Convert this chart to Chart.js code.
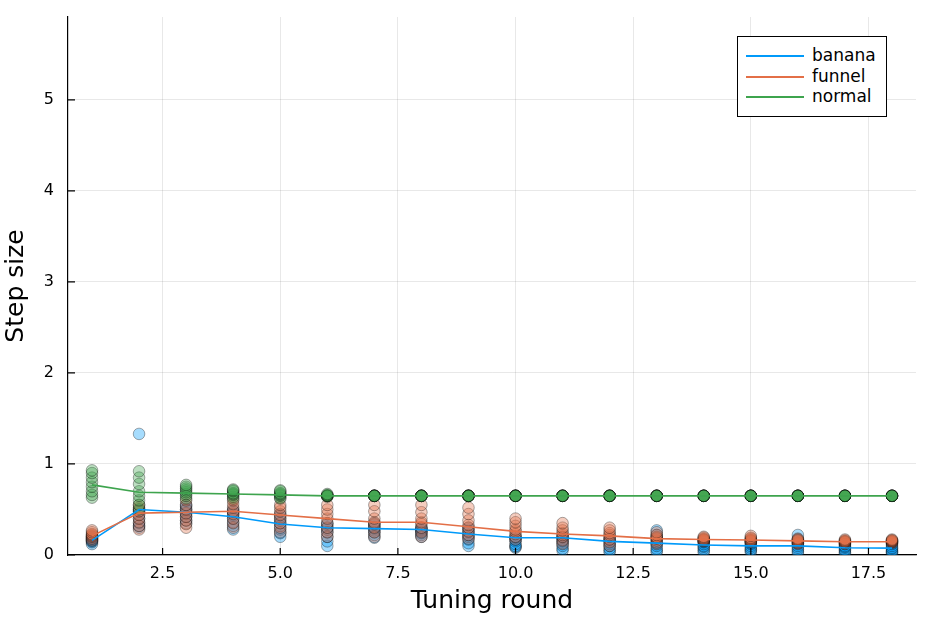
<!DOCTYPE html>
<html>
<head>
<meta charset="utf-8">
<script src="https://cdn.jsdelivr.net/npm/chart.js@4.4.1/dist/chart.umd.min.js"></script>
<style>
  body { margin: 0; background: #fff; }
  #wrap { position: relative; width: 934px; height: 623px; }
  #legend {
    position: absolute; left: 737px; top: 36px; width: 148px; height: 79px;
    border: 1.5px solid #000; background: #fff;
    font-family: "DejaVu Sans", sans-serif; font-size: 17px; color: #000;
  }
  #legend .row { position: absolute; left: 0; width: 100%; height: 20px; line-height: 20px; }
  #legend .swatch { position: absolute; left: 8px; top: 9px; width: 58px; height: 2px; }
  #legend .label { position: absolute; left: 74px; top: -1px; white-space: nowrap; }
</style>
</head>
<body>
<div id="wrap">
  <canvas id="chart" width="934" height="623"></canvas>
  <div id="legend"></div>
</div>
<script>
const rounds = [1, 2, 3, 4, 5, 6, 7, 8, 9, 10, 11, 12, 13, 14, 15, 16, 17, 18];
const xTicks = [2.5, 5.0, 7.5, 10.0, 12.5, 15.0, 17.5];
const yTicks = [0, 1, 2, 3, 4, 5];

// mean step size per tuning round
const bananaMean = [0.16, 0.50, 0.47, 0.42, 0.34, 0.30, 0.29, 0.28, 0.23, 0.19, 0.19, 0.15, 0.13, 0.11, 0.10, 0.10, 0.08, 0.075];
const funnelMean = [0.21, 0.46, 0.47, 0.48, 0.44, 0.40, 0.36, 0.36, 0.31, 0.26, 0.23, 0.21, 0.18, 0.17, 0.165, 0.155, 0.145, 0.145];
const normalMean = [0.77, 0.69, 0.68, 0.67, 0.66, 0.65, 0.65, 0.65, 0.65, 0.65, 0.65, 0.65, 0.65, 0.65, 0.65, 0.65, 0.65, 0.65];

// per-chain step sizes, one list per round
const bananaChains = [
  [0.12, 0.14, 0.15, 0.16, 0.17, 0.18, 0.19, 0.20],
  [1.33, 0.30, 0.35, 0.40, 0.45, 0.50, 0.48, 0.32],
  [0.35, 0.38, 0.42, 0.45, 0.48, 0.50, 0.53, 0.55],
  [0.28, 0.32, 0.36, 0.40, 0.43, 0.46, 0.48, 0.50],
  [0.20, 0.24, 0.28, 0.32, 0.35, 0.38, 0.42, 0.45],
  [0.10, 0.15, 0.20, 0.25, 0.28, 0.30, 0.33, 0.35],
  [0.19, 0.22, 0.25, 0.27, 0.29, 0.31, 0.33, 0.35],
  [0.20, 0.22, 0.24, 0.26, 0.27, 0.28, 0.29, 0.30],
  [0.10, 0.13, 0.17, 0.20, 0.22, 0.25, 0.28, 0.30],
  [0.08, 0.09, 0.10, 0.12, 0.15, 0.17, 0.19, 0.20],
  [0.05, 0.07, 0.10, 0.13, 0.15, 0.17, 0.19, 0.20],
  [0.03, 0.05, 0.07, 0.10, 0.12, 0.15, 0.17, 0.18],
  [0.03, 0.05, 0.07, 0.10, 0.13, 0.18, 0.22, 0.27],
  [0.03, 0.05, 0.07, 0.09, 0.10, 0.12, 0.14, 0.15],
  [0.03, 0.05, 0.06, 0.08, 0.10, 0.12, 0.13, 0.15],
  [0.02, 0.04, 0.06, 0.08, 0.10, 0.13, 0.17, 0.22],
  [0.02, 0.03, 0.05, 0.06, 0.08, 0.09, 0.10, 0.12],
  [0.02, 0.03, 0.04, 0.05, 0.07, 0.08, 0.10, 0.12]
];
const funnelChains = [
  [0.16, 0.18, 0.20, 0.21, 0.22, 0.23, 0.25, 0.27],
  [0.28, 0.32, 0.36, 0.40, 0.44, 0.48, 0.52, 0.55],
  [0.30, 0.34, 0.38, 0.42, 0.46, 0.50, 0.55, 0.60],
  [0.30, 0.35, 0.40, 0.45, 0.48, 0.52, 0.56, 0.60],
  [0.25, 0.30, 0.35, 0.40, 0.44, 0.48, 0.52, 0.55],
  [0.20, 0.25, 0.30, 0.35, 0.40, 0.45, 0.50, 0.55],
  [0.20, 0.25, 0.30, 0.34, 0.36, 0.40, 0.48, 0.55],
  [0.20, 0.25, 0.30, 0.34, 0.36, 0.40, 0.47, 0.55],
  [0.18, 0.22, 0.26, 0.30, 0.33, 0.38, 0.45, 0.52],
  [0.17, 0.20, 0.23, 0.26, 0.28, 0.32, 0.36, 0.40],
  [0.12, 0.16, 0.20, 0.22, 0.24, 0.27, 0.30, 0.35],
  [0.10, 0.14, 0.17, 0.20, 0.22, 0.24, 0.27, 0.30],
  [0.12, 0.14, 0.16, 0.18, 0.19, 0.20, 0.22, 0.25],
  [0.15, 0.16, 0.16, 0.17, 0.17, 0.18, 0.19, 0.20],
  [0.14, 0.15, 0.16, 0.16, 0.17, 0.18, 0.19, 0.21],
  [0.12, 0.13, 0.14, 0.15, 0.16, 0.16, 0.17, 0.18],
  [0.12, 0.13, 0.14, 0.14, 0.15, 0.15, 0.16, 0.17],
  [0.13, 0.14, 0.14, 0.15, 0.15, 0.16, 0.16, 0.17]
];
const normalChains = [
  [0.63, 0.66, 0.70, 0.75, 0.80, 0.85, 0.90, 0.93],
  [0.50, 0.55, 0.60, 0.65, 0.70, 0.78, 0.85, 0.92],
  [0.62, 0.65, 0.67, 0.69, 0.71, 0.73, 0.75, 0.77],
  [0.62, 0.64, 0.66, 0.67, 0.68, 0.70, 0.71, 0.72],
  [0.62, 0.63, 0.65, 0.66, 0.67, 0.68, 0.70, 0.71],
  [0.64, 0.65, 0.65, 0.65, 0.65, 0.65, 0.66, 0.67],
  [0.65, 0.65, 0.65, 0.65, 0.65, 0.65, 0.65, 0.65],
  [0.65, 0.65, 0.65, 0.65, 0.65, 0.65, 0.65, 0.65],
  [0.65, 0.65, 0.65, 0.65, 0.65, 0.65, 0.65, 0.65],
  [0.65, 0.65, 0.65, 0.65, 0.65, 0.65, 0.65, 0.65],
  [0.65, 0.65, 0.65, 0.65, 0.65, 0.65, 0.65, 0.65],
  [0.65, 0.65, 0.65, 0.65, 0.65, 0.65, 0.65, 0.65],
  [0.65, 0.65, 0.65, 0.65, 0.65, 0.65, 0.65, 0.65],
  [0.65, 0.65, 0.65, 0.65, 0.65, 0.65, 0.65, 0.65],
  [0.65, 0.65, 0.65, 0.65, 0.65, 0.65, 0.65, 0.65],
  [0.65, 0.65, 0.65, 0.65, 0.65, 0.65, 0.65, 0.65],
  [0.65, 0.65, 0.65, 0.65, 0.65, 0.65, 0.65, 0.65],
  [0.65, 0.65, 0.65, 0.65, 0.65, 0.65, 0.65, 0.65]
];

const series = [
  { name: "banana", color: "#009afa", fill: "rgba(0,154,250,0.35)", mean: bananaMean, chains: bananaChains },
  { name: "funnel", color: "#e36f47", fill: "rgba(227,111,71,0.35)", mean: funnelMean, chains: funnelChains },
  { name: "normal", color: "#3ea44e", fill: "rgba(62,164,78,0.35)", mean: normalMean, chains: normalChains }
];

const FONT = "'DejaVu Sans', sans-serif";

function chainPoints(chains) {
  const pts = [];
  chains.forEach((vals, i) => {
    vals.forEach((v) => pts.push({ x: rounds[i], y: v }));
  });
  return pts;
}

// later series sit on top of earlier ones, lines above all markers
const datasets = [];
series.forEach((s, i) => {
  datasets.push({
    type: "scatter",
    label: s.name + " chains",
    data: chainPoints(s.chains),
    pointRadius: 5.8,
    pointBackgroundColor: s.fill,
    pointBorderColor: "rgba(0,0,0,0.33)",
    pointBorderWidth: 1,
    order: 10 - i
  });
});
series.forEach((s, i) => {
  datasets.push({
    type: "line",
    label: s.name,
    data: s.mean.map((v, j) => ({ x: rounds[j], y: v })),
    borderColor: s.color,
    borderWidth: 1.6,
    pointRadius: 0,
    tension: 0,
    order: 5 - i
  });
});

// inward tick marks, like the original plot
const innerTicks = {
  id: "innerTicks",
  afterDatasetsDraw(chart) {
    const { ctx, chartArea, scales } = chart;
    ctx.save();
    ctx.strokeStyle = "#000";
    ctx.lineWidth = 1.2;
    ctx.beginPath();
    xTicks.forEach((t) => {
      const px = scales.x.getPixelForValue(t);
      ctx.moveTo(px, chartArea.bottom);
      ctx.lineTo(px, chartArea.bottom - 7);
    });
    yTicks.forEach((t) => {
      const py = scales.y.getPixelForValue(t);
      ctx.moveTo(chartArea.left, py);
      ctx.lineTo(chartArea.left + 7, py);
    });
    ctx.stroke();
    ctx.restore();
  }
};

new Chart(document.getElementById("chart"), {
  data: { datasets: datasets },
  options: {
    responsive: false,
    animation: false,
    layout: { padding: { top: 17, right: 18, left: 0, bottom: 0 } },
    plugins: { legend: { display: false }, tooltip: { enabled: false } },
    scales: {
      x: {
        type: "linear",
        min: 0.49,
        max: 18.51,
        afterBuildTicks: (scale) => { scale.ticks = xTicks.map((v) => ({ value: v })); },
        afterFit: (scale) => {
          scale.height = 68;
          scale.paddingLeft = 0;
          scale.paddingRight = 0;
        },
        ticks: {
          color: "#000",
          font: { family: FONT, size: 16 },
          padding: 9,
          maxRotation: 0,
          callback: (v) => v.toFixed(1)
        },
        grid: { color: "rgba(0,0,0,0.09)", lineWidth: 1, drawTicks: false },
        border: { color: "#000", width: 1.2 },
        title: {
          display: true,
          text: "Tuning round",
          color: "#000",
          font: { family: FONT, size: 25 },
          padding: { top: 0, bottom: 7 }
        }
      },
      y: {
        type: "linear",
        min: 0,
        max: 5.91,
        afterBuildTicks: (scale) => { scale.ticks = yTicks.map((v) => ({ value: v })); },
        afterFit: (scale) => {
          scale.width = 68;
          scale.paddingTop = 0;
          scale.paddingBottom = 0;
        },
        ticks: {
          color: "#000",
          font: { family: FONT, size: 16 },
          padding: 14,
          callback: (v) => String(v)
        },
        grid: { color: "rgba(0,0,0,0.09)", lineWidth: 1, drawTicks: false },
        border: { color: "#000", width: 1.2 },
        title: {
          display: true,
          text: "Step size",
          color: "#000",
          font: { family: FONT, size: 25 },
          padding: { top: 1, bottom: 0 }
        }
      }
    }
  },
  plugins: [innerTicks]
});

// legend box in the top right corner
const legend = document.getElementById("legend");
series.forEach((s, i) => {
  const row = document.createElement("div");
  row.className = "row";
  row.style.top = (9 + i * 20.5) + "px";
  row.innerHTML = '<div class="swatch" style="background:' + s.color + '"></div>' +
    '<div class="label">' + s.name + '</div>';
  legend.appendChild(row);
});
</script>
</body>
</html>
